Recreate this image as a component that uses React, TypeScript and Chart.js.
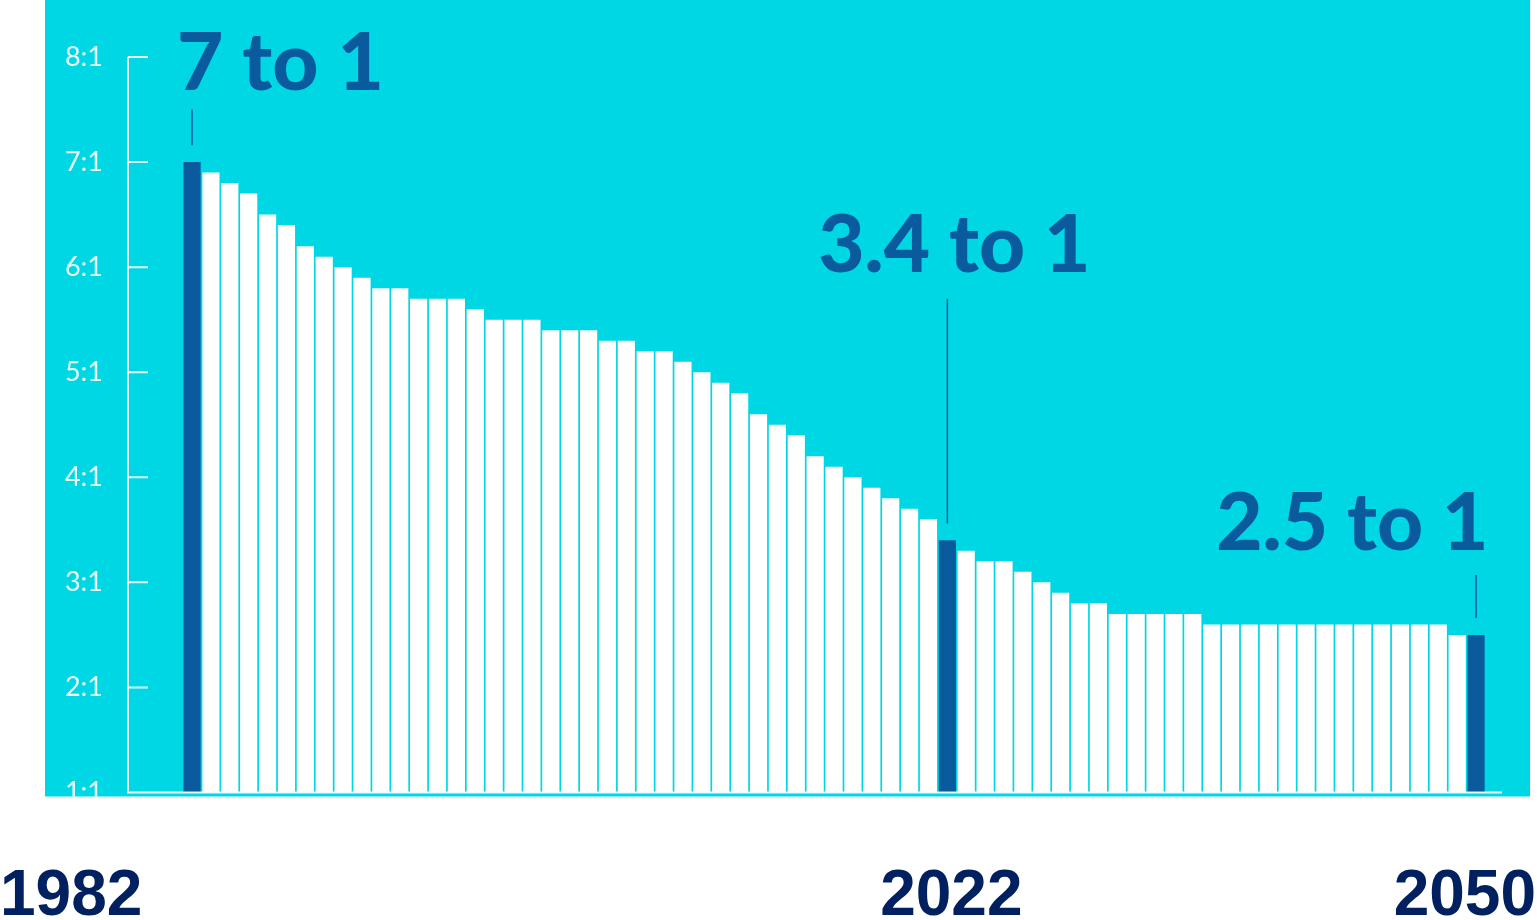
import React, { useEffect, useRef } from "react";
import { Chart, registerables } from "chart.js";

Chart.register(...registerables);

const years: string[] = [];
for (let y = 1982; y <= 2050; y++) years.push(String(y));

const ratios: number[] = [
  7.0, 6.9, 6.8, 6.7, 6.5, 6.4, 6.2, 6.1, 6.0, 5.9,
  5.8, 5.8, 5.7, 5.7, 5.7, 5.6, 5.5, 5.5, 5.5, 5.4,
  5.4, 5.4, 5.3, 5.3, 5.2, 5.2, 5.1, 5.0, 4.9, 4.8,
  4.6, 4.5, 4.4, 4.2, 4.1, 4.0, 3.9, 3.8, 3.7, 3.6,
  3.4, 3.3, 3.2, 3.2, 3.1, 3.0, 2.9, 2.8, 2.8, 2.7,
  2.7, 2.7, 2.7, 2.7, 2.6, 2.6, 2.6, 2.6, 2.6, 2.6,
  2.6, 2.6, 2.6, 2.6, 2.6, 2.6, 2.6, 2.5, 2.5,
];

const highlightYears: string[] = ["1982", "2022", "2050"];
const yTickValues: number[] = [1, 2, 3, 4, 5, 6, 7, 8];
const yTickLabels: string[] = ["1:1", "2:1", "3:1", "4:1", "5:1", "6:1", "7:1", "8:1"];

const annotationTexts: string[] = ["7 to 1", "3.4 to 1", "2.5 to 1"];
const annotationYears: string[] = ["1982", "2022", "2050"];
const annotationTextAt: number[] = [7.69, 5.95, 3.31];
const annotationLineTop: number[] = [7.5, 5.7, 3.07];

const CYAN = "#00D7E5";
const DARK = "#0A5A9E";
const NAVY = "#002060";

const decorPlugin = {
  id: "decor",
  beforeDraw(chart: any) {
    const ctx = chart.ctx;
    const y = chart.scales.y;
    ctx.save();
    ctx.fillStyle = "#ffffff";
    ctx.fillRect(0, 0, chart.width, chart.height);
    ctx.fillStyle = CYAN;
    ctx.fillRect(45, 0, 1485, y.getPixelForValue(1) + 4);
    ctx.restore();
  },
  afterDraw(chart: any) {
    const ctx = chart.ctx;
    const x = chart.scales.x;
    const y = chart.scales.y;
    const bottom = y.getPixelForValue(1);
    const top = y.getPixelForValue(8);
    const axisX = 128;
    ctx.save();
    ctx.beginPath();
    ctx.rect(45, 0, 1485, bottom + 4);
    ctx.clip();
    // axis
    ctx.strokeStyle = "rgba(255,255,255,0.9)";
    ctx.lineWidth = 2;
    ctx.beginPath();
    ctx.moveTo(axisX, top);
    ctx.lineTo(axisX, bottom);
    ctx.lineTo(1502, bottom);
    ctx.stroke();
    ctx.font = "400 27px Lato";
    ctx.fillStyle = "rgba(255,255,255,0.92)";
    ctx.textAlign = "right";
    ctx.textBaseline = "middle";
    yTickValues.forEach((v, i) => {
      const py = y.getPixelForValue(v);
      if (v > 1) {
        ctx.beginPath();
        ctx.moveTo(axisX, py);
        ctx.lineTo(axisX + 20, py);
        ctx.stroke();
      }
      ctx.fillText(yTickLabels[i], 103, py);
    });
    // annotations
    annotationTexts.forEach((t, i) => {
      const idx = years.indexOf(annotationYears[i]);
      const cx = x.getPixelForValue(idx);
      const half = (x.getPixelForValue(1) - x.getPixelForValue(0)) / 2;
      ctx.font = "900 80px Lato";
      ctx.fillStyle = DARK;
      ctx.textBaseline = "alphabetic";
      let tx = cx;
      if (i === 0) { ctx.textAlign = "left"; tx = cx - half * 1.6; }
      else if (i === annotationTexts.length - 1) { ctx.textAlign = "right"; tx = cx + half + 3; }
      else { ctx.textAlign = "center"; tx = cx + 7; }
      ctx.fillText(t, tx, y.getPixelForValue(annotationTextAt[i]));
      ctx.strokeStyle = DARK;
      ctx.lineWidth = 1.5;
      ctx.beginPath();
      ctx.moveTo(cx, y.getPixelForValue(annotationLineTop[i]));
      ctx.lineTo(cx, y.getPixelForValue(ratios[idx] + 0.16));
      ctx.stroke();
    });
    ctx.restore();

    // year labels
    ctx.save();
    ctx.font = "bold 64px 'Liberation Sans', Arial, sans-serif";
    ctx.fillStyle = NAVY;
    ctx.textBaseline = "alphabetic";
    highlightYears.forEach((yr, i) => {
      const idx = years.indexOf(yr);
      const cx = x.getPixelForValue(idx);
      if (i === 0) { ctx.textAlign = "left"; ctx.fillText(yr, 0, 915); }
      else if (i === highlightYears.length - 1) { ctx.textAlign = "right"; ctx.fillText(yr, chart.width - 1, 915); }
      else { ctx.textAlign = "center"; ctx.fillText(yr, cx + 4, 915); }
    });
    ctx.restore();
  },
};

export default function App() {
  const ref = useRef<HTMLCanvasElement | null>(null);
  useEffect(() => {
    if (!ref.current) return;
    const chart = new Chart(ref.current, {
      type: "bar",
      data: {
        labels: years,
        datasets: [
          {
            data: ratios,
            base: 1,
            backgroundColor: years.map((yr) => (highlightYears.includes(yr) ? DARK : "#ffffff")),
            borderWidth: 0,
            barPercentage: 0.91,
            categoryPercentage: 1,
          } as any,
        ],
      },
      options: {
        animation: false,
        responsive: false,
        layout: { padding: { left: 182.6, right: 51.5, top: 57, bottom: 127.5 } },
        plugins: { legend: { display: false }, tooltip: { enabled: false } },
        scales: {
          x: { display: false, offset: true },
          y: { display: false, min: 1, max: 8 },
        },
      },
      plugins: [decorPlugin],
    });
    return () => chart.destroy();
  }, []);
  return (
    <div style={{ position: "absolute", left: 0, top: 0, width: 1537, height: 920 }}>
      <canvas ref={ref} width={1537} height={920} style={{ width: 1537, height: 920, display: "block" }} />
    </div>
  );
}
